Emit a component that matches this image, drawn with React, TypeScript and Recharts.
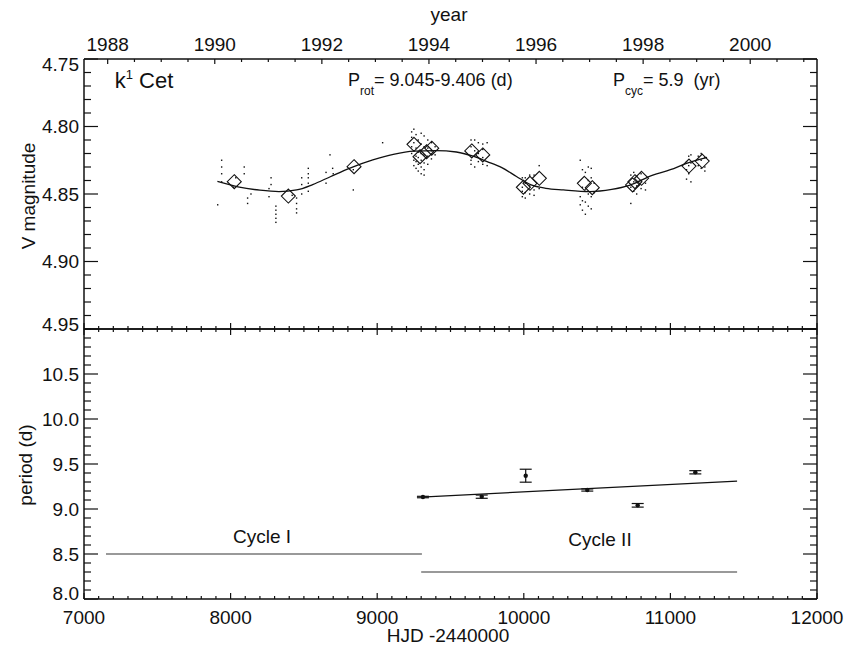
import { ComposedChart, Line, Scatter, XAxis, YAxis, ErrorBar } from 'recharts'

// photometry, HJD-2440000 vs V
const PHOT: [number, number][] = [
  [7912, 4.858],
  [7939, 4.825], [7939, 4.830], [7939, 4.835], [7939, 4.841],
  [8020, 4.845], [8035, 4.838],
  [8093, 4.830], [8093, 4.835],
  [8116, 4.853], [8116, 4.857], [8139, 4.850],
  [8262, 4.846], [8262, 4.852], [8276, 4.838], [8276, 4.843],
  [8309, 4.859], [8309, 4.862], [8309, 4.865], [8309, 4.868], [8309, 4.871],
  [8420, 4.851],
  [8450, 4.853], [8450, 4.857], [8450, 4.861], [8450, 4.864],
  [8485, 4.838], [8485, 4.843], [8485, 4.850],
  [8530, 4.831], [8530, 4.835], [8530, 4.838], [8530, 4.842], [8530, 4.848],
  [8651, 4.834], [8651, 4.842], [8678, 4.821], [8696, 4.831], [8700, 4.835],
  [8837, 4.832], [8837, 4.847], [9037, 4.812],
  [9235, 4.804], [9235, 4.808], [9235, 4.815], [9235, 4.820],
  [9250, 4.802], [9250, 4.812], [9250, 4.818], [9250, 4.825], [9250, 4.829],
  [9265, 4.806], [9265, 4.816], [9265, 4.822], [9265, 4.826], [9265, 4.831],
  [9280, 4.810], [9280, 4.819], [9280, 4.823], [9280, 4.828], [9280, 4.833],
  [9300, 4.805], [9300, 4.813], [9300, 4.820], [9300, 4.825], [9300, 4.830], [9300, 4.835],
  [9320, 4.807], [9320, 4.815], [9320, 4.821], [9320, 4.827], [9320, 4.832], [9320, 4.836],
  [9345, 4.810], [9345, 4.816], [9345, 4.822], [9345, 4.828],
  [9370, 4.812], [9370, 4.818], [9370, 4.824],
  [9395, 4.815], [9395, 4.821],
  [9640, 4.810], [9640, 4.815], [9640, 4.825], [9640, 4.828],
  [9665, 4.810], [9665, 4.818], [9665, 4.822], [9665, 4.830],
  [9690, 4.812], [9690, 4.820], [9690, 4.826],
  [9720, 4.813], [9720, 4.817], [9720, 4.823], [9720, 4.828],
  [9750, 4.812], [9750, 4.829],
  [9990, 4.838], [9990, 4.845], [9990, 4.848], [9990, 4.852],
  [10010, 4.838], [10010, 4.842], [10010, 4.849], [10010, 4.853],
  [10040, 4.836], [10040, 4.844], [10040, 4.850],
  [10070, 4.836], [10070, 4.847], [10070, 4.851],
  [10105, 4.829], [10105, 4.846],
  [10385, 4.825], [10385, 4.852], [10385, 4.858],
  [10400, 4.832], [10400, 4.845], [10400, 4.855], [10400, 4.862],
  [10420, 4.834], [10420, 4.848], [10420, 4.856], [10420, 4.865],
  [10440, 4.830], [10440, 4.840], [10440, 4.850], [10440, 4.859],
  [10460, 4.831], [10460, 4.838], [10460, 4.852], [10460, 4.861],
  [10480, 4.842], [10480, 4.849],
  [10730, 4.836], [10730, 4.845], [10730, 4.857],
  [10750, 4.834], [10750, 4.841], [10750, 4.848],
  [10770, 4.837], [10770, 4.844], [10770, 4.850],
  [10800, 4.835], [10800, 4.840], [10800, 4.846],
  [10830, 4.842], [10830, 4.847],
  [11110, 4.826], [11110, 4.832], [11110, 4.839],
  [11125, 4.822], [11125, 4.829], [11125, 4.835],
  [11140, 4.821], [11140, 4.827], [11140, 4.841],
  [11190, 4.822], [11190, 4.829],
  [11210, 4.820], [11210, 4.825], [11210, 4.831],
  [11235, 4.823], [11235, 4.830], [11235, 4.833],
]

// seasonal means (diamonds)
const MEANS: [number, number][] = [
  [8025, 4.8409], [8394, 4.8515], [8842, 4.8298],
  [9251, 4.8132], [9292, 4.8224], [9337, 4.8187], [9372, 4.8161],
  [9645, 4.8181], [9720, 4.8211],
  [9997, 4.845], [10042, 4.8421], [10106, 4.8384],
  [10413, 4.8421], [10467, 4.8453],
  [10742, 4.8433], [10758, 4.8409], [10803, 4.8384],
  [11127, 4.8293], [11217, 4.8256],
]

// 5.9 yr cycle fit
const CYCLE_FIT: [number, number][] = [
  [7910, 4.8407], [8050, 4.8447], [8200, 4.8472], [8330, 4.8482], [8450, 4.847],
  [8560, 4.843], [8680, 4.8372], [8810, 4.831], [8970, 4.8248], [9110, 4.8206],
  [9250, 4.8182], [9400, 4.8178], [9540, 4.8189], [9660, 4.8222], [9750, 4.826],
  [9850, 4.8305], [9950, 4.837], [10050, 4.8433], [10150, 4.8458], [10270, 4.847],
  [10450, 4.8482], [10600, 4.8466], [10720, 4.8436], [10880, 4.836], [11000, 4.832],
  [11110, 4.8273], [11250, 4.8228],
]

// rotation periods with errors
const PERIODS: [number, number, number][] = [
  [9312, 9.133, 0.008], [9713, 9.137, 0.018], [10013, 9.37, 0.072],
  [10433, 9.211, 0.012], [10777, 9.041, 0.02], [11170, 9.408, 0.018],
]
const PERIOD_TREND: [number, number][] = [[9300, 9.132], [11455, 9.31]]
const CYCLE_I: [number, number][] = [[7150, 8.5], [9305, 8.5]]
const CYCLE_II: [number, number][] = [[9300, 8.3], [11455, 8.3]]

const HJD_MAJOR = [7000, 8000, 9000, 10000, 11000, 12000]
const YEAR_MAJOR = [1988, 1990, 1992, 1994, 1996, 1998, 2000]
const MAG_MAJOR = [4.75, 4.8, 4.85, 4.9, 4.95]
const PER_MAJOR = [8.0, 8.5, 9.0, 9.5, 10.0, 10.5]

const steps = (lo: number, hi: number, st: number) => {
  const out: number[] = []
  for (let v = lo; v <= hi + st / 1000; v += st) out.push(Math.round(v * 1000) / 1000)
  return out
}

// 1988 Jan 1 = HJD 2447161.5
const yearToHjd = (y: number) => 7161.5 + (y - 1988) * 365.25
const hjdToYear = (h: number) => 1988 + (h - 7161.5) / 365.25

const HJD_TICKS = steps(7000, 12000, 100)
const YEAR_TICKS = steps(1988, 2001, 0.5).map(yearToHjd)
const YEAR_MAJOR_HJD = YEAR_MAJOR.map(yearToHjd)
const MAG_TICKS = steps(4.75, 4.95, 0.01)
const PER_TICKS = steps(8.0, 11.0, 0.1)

const FONT = '"Liberation Sans", Arial, Helvetica, sans-serif'
const INK = '#111'

type Side = 'left' | 'right' | 'top' | 'bottom'

function tickMaker(
  side: Side,
  majors: number[],
  majorLen: number,
  minorLen: number,
  fmt?: (v: number) => string,
  nudge?: (v: number) => number,
) {
  return (props: any) => {
    const { x, y, payload } = props
    const v = payload.value as number
    const major = majors.some((m) => Math.abs(m - v) < 1e-3)
    const L = major ? majorLen : minorLen
    const dd = nudge ? nudge(v) : 0
    let line
    let label = null
    if (side === 'left') {
      line = <line x1={x} y1={y} x2={x + L} y2={y} stroke={INK} strokeWidth={1.2} />
      if (major && fmt) label = <text x={x - 5} y={y + dd} dy="0.35em" textAnchor="end">{fmt(v)}</text>
    } else if (side === 'right') {
      line = <line x1={x} y1={y} x2={x - L} y2={y} stroke={INK} strokeWidth={1.2} />
    } else if (side === 'top') {
      line = <line x1={x} y1={y} x2={x} y2={y + L} stroke={INK} strokeWidth={1.2} />
      if (major && fmt) label = <text x={x} y={y - 8} textAnchor="middle">{fmt(v)}</text>
    } else {
      line = <line x1={x} y1={y} x2={x} y2={y - L} stroke={INK} strokeWidth={1.2} />
      if (major && fmt) label = <text x={x} y={y + 25} textAnchor="middle">{fmt(v)}</text>
    }
    return (
      <g fontFamily={FONT} fontSize={19} fill={INK}>
        {line}
        {label}
      </g>
    )
  }
}

const axisLine = { stroke: INK, strokeWidth: 1.5 }
const common = { tickSize: 0, tickMargin: 0, tickLine: false, axisLine, interval: 0 as const, allowDataOverflow: true }

const Dot = (p: any) => <rect x={p.cx - 0.7} y={p.cy - 0.7} width={1.4} height={1.4} fill={INK} />
const Diamond = (p: any) => (
  <polygon
    points={`${p.cx},${p.cy - 7} ${p.cx + 7},${p.cy} ${p.cx},${p.cy + 7} ${p.cx - 7},${p.cy}`}
    fill="none"
    stroke={INK}
    strokeWidth={1.1}
  />
)
const PDot = (p: any) => <circle cx={p.cx} cy={p.cy} r={2.2} fill={INK} />

const txt = (x: number, y: number, rot = false): React.CSSProperties => ({
  position: 'absolute',
  left: x,
  top: y,
  transform: `translate(-50%, -50%)${rot ? ' rotate(-90deg)' : ''}`,
  whiteSpace: 'nowrap',
  fontFamily: FONT,
  fontSize: 19,
  color: INK,
  lineHeight: 1,
})

const annot: React.CSSProperties = {
  position: 'absolute',
  top: 70,
  fontFamily: FONT,
  fontSize: 18,
  color: INK,
  whiteSpace: 'nowrap',
}

export default function App() {
  const phot = PHOT.map(([x, v]) => ({ x, v }))
  const means = MEANS.map(([x, v]) => ({ x, v }))
  const fit = CYCLE_FIT.map(([x, v]) => ({ x, v }))
  const periods = PERIODS.map(([x, v, err]) => ({ x, v, err }))
  const trend = PERIOD_TREND.map(([x, v]) => ({ x, v }))
  const c1 = CYCLE_I.map(([x, v]) => ({ x, v }))
  const c2 = CYCLE_II.map(([x, v]) => ({ x, v }))

  return (
    <div style={{ position: 'absolute', left: 0, top: 0, width: 847, height: 651, background: '#fff' }}>
      <div style={{ position: 'absolute', left: 0, top: 0 }}>
        <ComposedChart width={847} height={651} margin={{ top: 328, right: 29, bottom: 51, left: 83 }}>
          <XAxis
            dataKey="x"
            type="number"
            domain={[7000, 12000]}
            ticks={HJD_TICKS}
            height={1}
            tick={tickMaker('bottom', HJD_MAJOR, 6, 3, (v) => String(v))}
            {...common}
          />
          <XAxis
            xAxisId="top"
            dataKey="x"
            orientation="top"
            type="number"
            domain={[7000, 12000]}
            ticks={HJD_TICKS}
            height={1}
            tick={tickMaker('top', HJD_MAJOR, 6, 3)}
            {...common}
          />
          <YAxis
            dataKey="v"
            type="number"
            domain={[8, 11]}
            ticks={PER_TICKS}
            width={1}
            tick={tickMaker('left', PER_MAJOR, 14, 7, (v) => v.toFixed(1), (v) => (v < 8.05 ? -6 : 0))}
            {...common}
          />
          <YAxis
            yAxisId="right"
            orientation="right"
            type="number"
            domain={[8, 11]}
            ticks={PER_TICKS}
            width={1}
            tick={tickMaker('right', PER_MAJOR, 14, 7)}
            {...common}
          />
          {/* invisible series so the mirror axes get ticks */}
          <Line data={trend} dataKey="v" xAxisId="top" yAxisId="right" stroke="none" dot={false} isAnimationActive={false} />
          <Line data={c1} dataKey="v" stroke="#777" strokeWidth={1.3} dot={false} isAnimationActive={false} />
          <Line data={c2} dataKey="v" stroke="#777" strokeWidth={1.3} dot={false} isAnimationActive={false} />
          <Line data={trend} dataKey="v" stroke={INK} strokeWidth={1.3} dot={false} isAnimationActive={false} />
          <Scatter data={periods} dataKey="v" shape={PDot} isAnimationActive={false}>
            <ErrorBar dataKey="err" direction="y" width={6} stroke={INK} strokeWidth={1.2} />
          </Scatter>
        </ComposedChart>
      </div>

      <div style={{ position: 'absolute', left: 0, top: 0 }}>
        <ComposedChart width={847} height={345} margin={{ top: 58, right: 29, bottom: 15, left: 83 }}>
          <XAxis
            dataKey="x"
            type="number"
            domain={[7000, 12000]}
            ticks={HJD_TICKS}
            height={1}
            tick={tickMaker('bottom', HJD_MAJOR, 6, 3)}
            {...common}
          />
          <XAxis
            xAxisId="year"
            dataKey="x"
            orientation="top"
            type="number"
            domain={[7000, 12000]}
            ticks={YEAR_TICKS}
            height={1}
            tick={tickMaker('top', YEAR_MAJOR_HJD, 5, 3, (h) => String(Math.round(hjdToYear(h))))}
            {...common}
          />
          <YAxis
            dataKey="v"
            type="number"
            reversed
            domain={[4.75, 4.95]}
            ticks={MAG_TICKS}
            width={1}
            tick={tickMaker('left', MAG_MAJOR, 14, 7, (v) => v.toFixed(2), (v) => (v < 4.76 ? 5 : v > 4.94 ? -5 : 0))}
            {...common}
          />
          <YAxis
            yAxisId="right"
            orientation="right"
            type="number"
            reversed
            domain={[4.75, 4.95]}
            ticks={MAG_TICKS}
            width={1}
            tick={tickMaker('right', MAG_MAJOR, 14, 7)}
            {...common}
          />
          {/* invisible series so the mirror axes get ticks */}
          <Line data={fit} dataKey="v" xAxisId="year" yAxisId="right" stroke="none" dot={false} isAnimationActive={false} />
          <Scatter data={phot} dataKey="v" shape={Dot} isAnimationActive={false} />
          <Line data={fit} dataKey="v" type="monotone" stroke={INK} strokeWidth={1.3} dot={false} isAnimationActive={false} />
          <Scatter data={means} dataKey="v" shape={Diamond} isAnimationActive={false} />
        </ComposedChart>
      </div>

      <div style={txt(449, 14)}>year</div>
      <div style={txt(28, 196, true)}>V magnitude</div>
      <div style={txt(25, 465, true)}>period (d)</div>
      <div style={txt(448, 635)}>HJD -2440000</div>

      <div style={{ ...txt(144, 80), fontSize: 22 }}>
        k<sup style={{ fontSize: 13, verticalAlign: 9 }}>1</sup> Cet
      </div>
      <div style={{ ...annot, left: 348 }}>
        P<sub style={{ fontSize: 12, verticalAlign: -9 }}>rot</sub>= 9.045-9.406 (d)
      </div>
      <div style={{ ...annot, left: 613 }}>
        P<sub style={{ fontSize: 12, verticalAlign: -9 }}>cyc</sub>= 5.9&nbsp; (yr)
      </div>

      <div style={txt(262, 536)}>Cycle I</div>
      <div style={txt(600, 539)}>Cycle II</div>
    </div>
  )
}
